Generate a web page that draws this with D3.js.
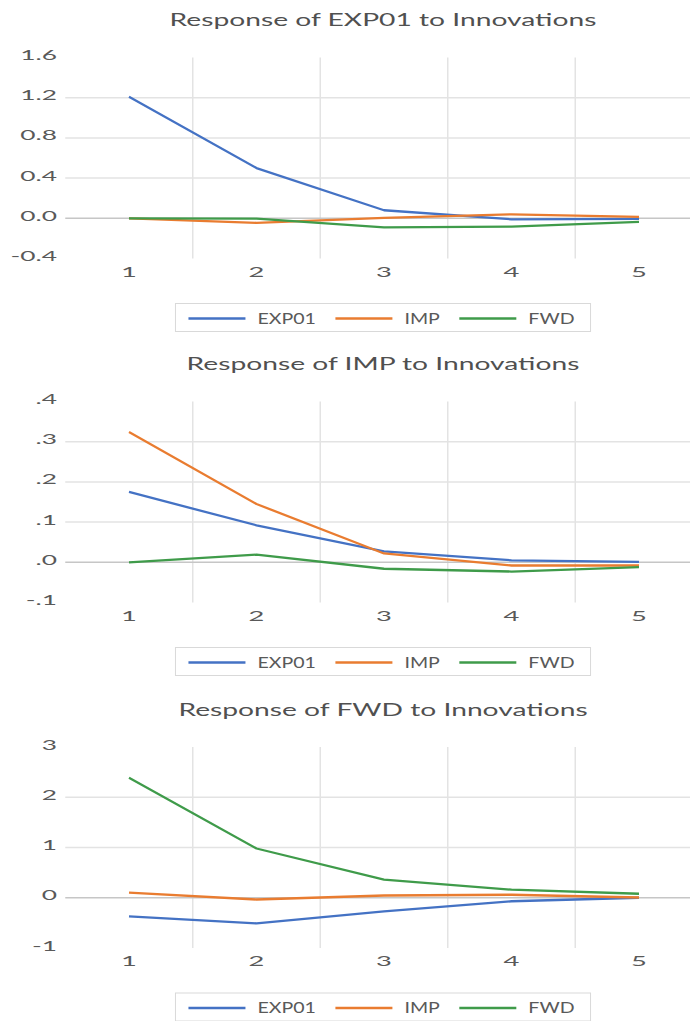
<!DOCTYPE html>
<html>
<head>
<meta charset="utf-8">
<script src="https://cdn.jsdelivr.net/npm/d3@7"></script>
<style>
  html, body { margin: 0; padding: 0; background: #ffffff; }
  svg { display: block; }
  text { font-family: Lato, "Open Sans", sans-serif; fill: #595959; }
</style>
</head>
<body>
<svg id="chart" width="690" height="1021"></svg>
<script>
// Impulse response periods (x categories)
const periods = [1, 2, 3, 4, 5];
const seriesNames = ["EXP01", "IMP", "FWD"];
const seriesColors = ["#4472C4", "#E97C30", "#3F9B4A"];

const panelTitles = [
  "Response of EXP01 to Innovations",
  "Response of IMP to Innovations",
  "Response of FWD to Innovations"
];

// Response of EXP01
const exp01ToEXP01 = [1.21, 0.50, 0.08, -0.01, -0.005];
const exp01ToIMP   = [0.00, -0.045, 0.005, 0.04, 0.015];
const exp01ToFWD   = [0.00, -0.003, -0.09, -0.082, -0.035];

// Response of IMP
const impToEXP01 = [0.175, 0.092, 0.027, 0.005, 0.001];
const impToIMP   = [0.324, 0.145, 0.022, -0.008, -0.008];
const impToFWD   = [0.000, 0.019, -0.016, -0.023, -0.012];

// Response of FWD
const fwdToEXP01 = [-0.37, -0.51, -0.27, -0.07, 0.00];
const fwdToIMP   = [0.10, -0.035, 0.045, 0.06, 0.005];
const fwdToFWD   = [2.39, 0.98, 0.36, 0.16, 0.08];

// Value axis ticks per panel
const yTicksEXP01 = [-0.4, 0.0, 0.4, 0.8, 1.2, 1.6];
const yTicksIMP   = [-0.1, 0.0, 0.1, 0.2, 0.3, 0.4];
const yTicksFWD   = [-1, 0, 1, 2, 3];

// number formats with a plain hyphen for negatives
const locale = d3.formatLocale({ decimal: ".", thousands: ",", grouping: [3], currency: ["", ""], minus: "-" });
const fmtOneDec = locale.format(".1f");
const fmtNoLead = v => fmtOneDec(v).replace(/^(-?)0\./, "$1.");
const fmtInt = locale.format("d");

const panels = [
  { title: panelTitles[0], series: [exp01ToEXP01, exp01ToIMP, exp01ToFWD], ticks: yTicksEXP01, fmt: fmtOneDec },
  { title: panelTitles[1], series: [impToEXP01, impToIMP, impToFWD], ticks: yTicksIMP, fmt: fmtNoLead },
  { title: panelTitles[2], series: [fwdToEXP01, fwdToIMP, fwdToFWD], ticks: yTicksFWD, fmt: fmtInt }
];

// Layout
const panelOffsets = [0, 344, 689.5];
const plotTop = 57.5, plotH = 201;
const plotLeft = 65.25, plotRight = 702.75;

// Horizontal stretch applied to text glyphs
const TITLE_SX = 1.66, TICK_SX = 1.95, LEGEND_SX = 1.35;

const svg = d3.select("#chart");

function stretchedText(g, x, y, str, size, sx, anchor) {
  return g.append("text")
    .attr("transform", `translate(${x},${y}) scale(${sx},1)`)
    .attr("text-anchor", anchor)
    .style("font-size", size + "px")
    .text(str);
}

const x = d3.scaleBand().domain(periods).range([plotLeft, plotRight]).paddingInner(0).paddingOuter(0);
const xc = p => x(p) + x.bandwidth() / 2;

panels.forEach((panel, pi) => {
  const g = svg.append("g").attr("transform", `translate(0,${panelOffsets[pi]})`);
  const yMin = d3.min(panel.ticks), yMax = d3.max(panel.ticks);
  const y = d3.scaleLinear().domain([yMin, yMax]).range([plotTop + plotH, plotTop]);

  // title
  stretchedText(g, 383, 26, panel.title, 17, TITLE_SX, "middle").style("fill", "#505050");

  // horizontal gridlines (interior values only)
  g.append("g").selectAll("line")
    .data(panel.ticks.filter(t => t !== yMin && t !== yMax && t !== 0))
    .join("line")
    .attr("x1", plotLeft).attr("x2", plotRight)
    .attr("y1", d => y(d)).attr("y2", d => y(d))
    .attr("stroke", "#e3e3e3").attr("stroke-width", 1.5);

  // vertical gridlines between categories
  g.append("g").selectAll("line")
    .data(periods.slice(1))
    .join("line")
    .attr("x1", d => x(d)).attr("x2", d => x(d))
    .attr("y1", plotTop).attr("y2", plotTop + plotH)
    .attr("stroke", "#e3e3e3").attr("stroke-width", 1.5);

  // zero axis line
  g.append("line")
    .attr("x1", plotLeft).attr("x2", plotRight)
    .attr("y1", y(0)).attr("y2", y(0))
    .attr("stroke", "#c6c6c6").attr("stroke-width", 1.5);

  // y tick labels
  panel.ticks.forEach(t => {
    stretchedText(g, 57, y(t) + 2.5, panel.fmt(t), 13.5, TICK_SX, "end");
  });

  // x tick labels
  periods.forEach(p => {
    stretchedText(g, xc(p), plotTop + plotH + 18, String(p), 14, TICK_SX, "middle");
  });

  // response lines
  const line = d3.line().x((d, i) => xc(periods[i])).y(d => y(d));
  panel.series.forEach((vals, si) => {
    g.append("path")
      .datum(vals)
      .attr("fill", "none")
      .attr("stroke", seriesColors[si])
      .attr("stroke-width", 2.3)
      .attr("stroke-linejoin", "round")
      .attr("d", line);
  });

  // legend
  const lg = g.append("g");
  const legTop = plotTop + 246, legH = 28, legMid = legTop + 15;
  const box = lg.append("rect")
    .attr("y", legTop).attr("height", legH)
    .attr("fill", "#ffffff").attr("stroke", "#d9d9d9").attr("stroke-width", 1);
  let cx = 0;
  const items = lg.append("g");
  seriesNames.forEach((name, si) => {
    items.append("line")
      .attr("x1", cx).attr("x2", cx + 57)
      .attr("y1", legMid).attr("y2", legMid)
      .attr("stroke", seriesColors[si]).attr("stroke-width", 2.3);
    const t = stretchedText(items, cx + 69, legMid + 5.3, name, 14.5, LEGEND_SX, "start");
    const w = t.node().getComputedTextLength() * LEGEND_SX;
    cx += 69 + w + 19.5;
  });
  const contentW = cx - 19.5;
  const padL = 13, padR = 16;
  const boxW = contentW + padL + padR;
  const boxX = 383 - boxW / 2;
  box.attr("x", boxX).attr("width", boxW);
  items.attr("transform", `translate(${boxX + padL},0)`);
});
</script>
</body>
</html>
